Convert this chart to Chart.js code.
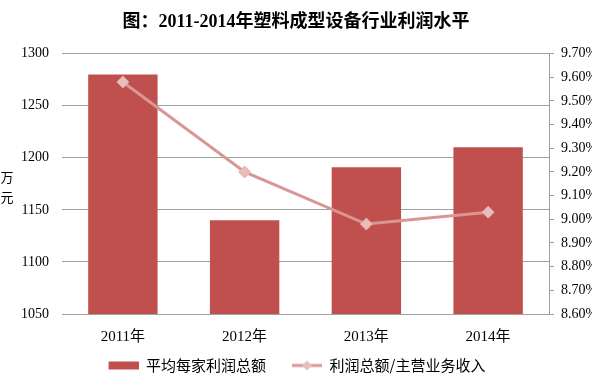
<!DOCTYPE html>
<html>
<head>
<meta charset="utf-8">
<script src="https://cdn.jsdelivr.net/npm/chart.js@4/dist/chart.umd.min.js"></script>
<style>
  html, body { margin: 0; padding: 0; background: #fff; }
  #wrap { width: 607px; height: 383px; position: relative; }
</style>
</head>
<body>
<div id="wrap"><canvas id="chart"></canvas></div>
<script>
// 数据
const years = ['2011年', '2012年', '2013年', '2014年'];
const profitPerFirm = [1280, 1140, 1191, 1210];      // 万元
const profitRatio = [9.58, 9.20, 8.98, 9.03];        // %
const leftTicks = [1050, 1300, 50];                  // min, max, step
const rightTicks = [8.6, 9.7, 0.1];

const serif = "'Liberation Serif', 'Noto Sans CJK SC', serif";
const cjk = "'Noto Sans CJK SC', sans-serif";

// 图例图标（左侧留白用来拉开两项之间的距离）
function legendIcon(kind) {
  const c = document.createElement('canvas');
  c.width = 56; c.height = 12;
  const g = c.getContext('2d');
  if (kind === 'bar') {
    g.fillStyle = '#C0504D';
    g.fillRect(26, 2, 30, 8);
  } else {
    g.strokeStyle = '#D99694';
    g.lineWidth = 3;
    g.beginPath(); g.moveTo(26, 6); g.lineTo(56, 6); g.stroke();
    g.fillStyle = '#E8BDBC';
    g.beginPath();
    g.moveTo(41, 1); g.lineTo(46, 6); g.lineTo(41, 11); g.lineTo(36, 6); g.closePath();
    g.fill();
  }
  return c;
}

// 纵轴单位 + 图例往左挪一点
const unitLabel = {
  id: 'unitLabel',
  afterLayout(chart) {
    chart.legend.right -= 24;
  },
  afterDraw(chart) {
    const ctx = chart.ctx;
    ctx.save();
    ctx.fillStyle = '#000';
    ctx.font = "13px 'Noto Sans CJK SC', sans-serif";
    ctx.textAlign = 'center';
    ctx.textBaseline = 'middle';
    ctx.fillText('万', 7, 177);
    ctx.fillText('元', 7, 197);
    ctx.restore();
  }
};

new Chart(document.getElementById('chart'), {
  data: {
    labels: years,
    datasets: [{
      type: 'bar',
      label: '平均每家利润总额',
      data: profitPerFirm,
      backgroundColor: '#C0504D',
      yAxisID: 'y',
      order: 1,
      categoryPercentage: 1,
      barPercentage: 0.57
    }, {
      type: 'line',
      label: '利润总额/主营业务收入',
      data: profitRatio,
      borderColor: '#D99694',
      borderWidth: 3,
      pointStyle: 'rectRot',
      pointRadius: 6,
      pointBackgroundColor: '#E8BDBC',
      pointBorderColor: '#E2ABAA',
      pointBorderWidth: 1,
      yAxisID: 'y1',
      order: 0
    }]
  },
  options: {
    responsive: true,
    maintainAspectRatio: false,
    animation: false,
    layout: { padding: { left: 0, right: 15, top: 0, bottom: 0 } },
    plugins: {
      title: {
        display: true,
        text: '图：2011-2014年塑料成型设备行业利润水平',
        color: '#000',
        font: { family: serif, size: 18, weight: 'bold' },
        padding: { top: 12, bottom: 20 }
      },
      legend: {
        position: 'bottom',
        labels: {
          usePointStyle: true,
          pointStyleWidth: 56,
          padding: 0,
          color: '#000',
          font: { family: cjk, size: 15 },
          sort: (a, b) => a.datasetIndex - b.datasetIndex,
          generateLabels(chart) {
            return chart.data.datasets.map((ds, i) => ({
              text: ds.label,
              datasetIndex: i,
              pointStyle: legendIcon(ds.type),
              fillStyle: 'rgba(0,0,0,0)',
              strokeStyle: 'rgba(0,0,0,0)',
              lineWidth: 0,
              fontColor: '#000',
              hidden: false
            }));
          }
        }
      },
      tooltip: { enabled: false }
    },
    scales: {
      x: {
        grid: { display: false, drawTicks: false },
        border: { display: true, color: '#A0A0A0', width: 1 },
        ticks: { color: '#000', font: { family: serif, size: 15 }, padding: 14 },
        afterFit(s) { s.height = 383 - 314 - (s.chart.legend ? s.chart.legend.height : 0); }
      },
      y: {
        position: 'left',
        min: leftTicks[0], max: leftTicks[1],
        grid: { color: '#A0A0A0', drawTicks: false },
        border: { display: false },
        ticks: {
          stepSize: leftTicks[2], color: '#000', font: { family: serif, size: 14 }, padding: 13,
          callback: v => String(v)
        },
        afterFit(s) { s.width = 62; }
      },
      y1: {
        position: 'right',
        min: rightTicks[0], max: rightTicks[1],
        grid: { drawOnChartArea: false, color: '#A0A0A0', tickLength: 5 },
        border: { display: true, color: '#A0A0A0', width: 1 },
        ticks: {
          stepSize: rightTicks[2], color: '#000', font: { family: serif, size: 14 }, padding: 7,
          callback: v => v.toFixed(2) + '%'
        },
        afterFit(s) { s.width = 43; }
      }
    }
  },
  plugins: [unitLabel]
});
</script>
</body>
</html>
